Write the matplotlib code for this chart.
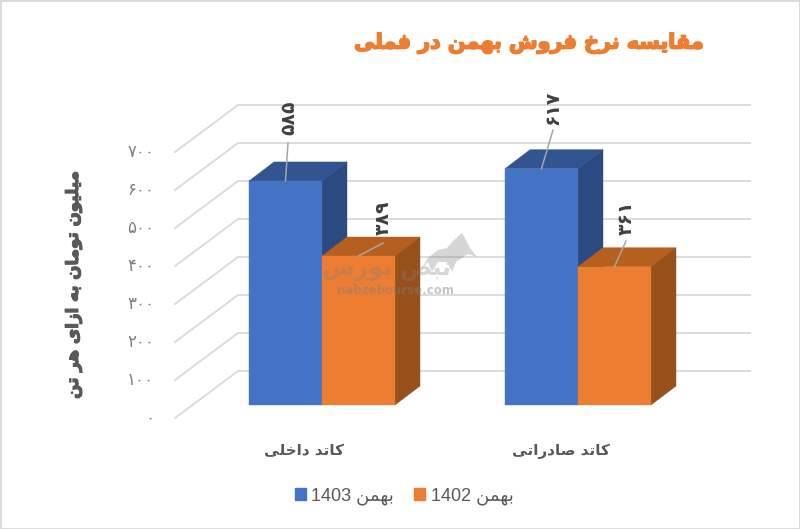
#!/usr/bin/env python3
# Faux-3D clustered column chart, Persian labels shaped by hand because
# matplotlib has no Arabic shaping.

import matplotlib

matplotlib.use("Agg")

import matplotlib.patheffects as pe
import matplotlib.pyplot as plt
from matplotlib.patches import Patch, Polygon, Rectangle


TITLE = "مقایسه نرخ فروش بهمن در فملی"
YLABEL = "میلیون تومان به ازای هر تن"
CATEGORIES = ["کاتد داخلی", "کاتد صادراتی"]
SERIES_NAMES = ["1403", "1402"]
SERIES_WORD = "بهمن"
VALUES_1403 = [585, 617]
VALUES_1402 = [389, 361]
YTICKS = [0, 100, 200, 300, 400, 500, 600, 700]
WATERMARK = "نبض بورس"
WATERMARK_URL = "nabzebourse.com"

BLUE = ("#4472C4", "#325592", "#2A4A80")
ORANGE = ("#ED7D31", "#B5601F", "#97501A")

# presentation forms: isolated, final, initial, medial
FORMS = {
    "ا": (0xFE8D, 0xFE8E), "د": (0xFEA9, 0xFEAA), "ر": (0xFEAD, 0xFEAE),
    "ز": (0xFEAF, 0xFEB0), "و": (0xFEED, 0xFEEE),
    "ب": (0xFE8F, 0xFE90, 0xFE91, 0xFE92), "ت": (0xFE95, 0xFE96, 0xFE97, 0xFE98),
    "خ": (0xFEA5, 0xFEA6, 0xFEA7, 0xFEA8), "س": (0xFEB1, 0xFEB2, 0xFEB3, 0xFEB4),
    "ش": (0xFEB5, 0xFEB6, 0xFEB7, 0xFEB8), "ص": (0xFEB9, 0xFEBA, 0xFEBB, 0xFEBC),
    "ض": (0xFEBD, 0xFEBE, 0xFEBF, 0xFEC0), "ف": (0xFED1, 0xFED2, 0xFED3, 0xFED4),
    "ق": (0xFED5, 0xFED6, 0xFED7, 0xFED8), "ک": (0xFB8E, 0xFB8F, 0xFB90, 0xFB91),
    "ل": (0xFEDD, 0xFEDE, 0xFEDF, 0xFEE0), "م": (0xFEE1, 0xFEE2, 0xFEE3, 0xFEE4),
    "ن": (0xFEE5, 0xFEE6, 0xFEE7, 0xFEE8), "ه": (0xFEE9, 0xFEEA, 0xFEEB, 0xFEEC),
    "ی": (0xFBFC, 0xFBFD, 0xFBFE, 0xFBFF),
}


def shape(text):
    out = []
    for i, ch in enumerate(text):
        forms = FORMS.get(ch)
        if forms is None:
            out.append(ch)
            continue
        prev_forms = FORMS.get(text[i - 1]) if i > 0 else None
        next_ok = i + 1 < len(text) and text[i + 1] in FORMS
        joins_prev = prev_forms is not None and len(prev_forms) == 4
        joins_next = next_ok and len(forms) == 4
        if joins_prev and joins_next:
            idx = 3
        elif joins_next:
            idx = 2
        elif joins_prev:
            idx = 1
        else:
            idx = 0
        out.append(chr(forms[idx]))
    return "".join(reversed(out))


def fa_digits(value):
    return "".join("۰۱۲۳۴۵۶۷۸۹"[int(c)] for c in str(value))


def heavy(width, color):
    return [pe.withStroke(linewidth=width, foreground=color)]


# layout in pixels of the 800x529 picture
K = 0.383
FLOOR = 405
DEPTH_X, DEPTH_Y = 25, 19


def py(px):
    return (FLOOR - px) / K


fig = plt.figure(figsize=(8.0, 5.29), dpi=100)
ax = fig.add_axes([0, 0, 1, 1])
ax.set_xlim(0, 800)
ax.set_ylim(py(529), py(0))
ax.axis("off")

fig.add_artist(Rectangle((0, 0), 1, 1, transform=fig.transFigure, fill=False,
                         edgecolor="#D9D9D9", lw=2.0))

# gridlines: side wall then back wall
grid_scale = 0.38 / K
for v in YTICKS:
    front = py(418) + v * grid_scale
    back = py(371) + v * grid_scale
    ax.plot([175, 238, 750], [front, back, back], color="#D9D9D9", lw=1.3,
            solid_joinstyle="miter", zorder=1)
    ax.text(154, front, fa_digits(v), ha="right", va="center",
            fontsize=12, color="#7F7F7F", zorder=2)

dy = DEPTH_Y / K
bar_w = 73
lefts_1403 = [249, 505]
lefts_1402 = [322, 578]


def draw_bar(x0, val, colors, z):
    x1 = x0 + bar_w
    ax.bar(x0, val, width=bar_w, align="edge", color=colors[0], zorder=z + 0.2,
           edgecolor=colors[0], linewidth=0.3)
    ax.add_patch(Polygon([(x0, val), (x0 + DEPTH_X, val + dy), (x1 + DEPTH_X, val + dy), (x1, val)],
                         facecolor=colors[1], edgecolor=colors[1], lw=0.3, zorder=z))
    ax.add_patch(Polygon([(x1, 0), (x1 + DEPTH_X, dy), (x1 + DEPTH_X, val + dy), (x1, val)],
                         facecolor=colors[2], edgecolor=colors[2], lw=0.3, zorder=z))


for x0, val in zip(lefts_1403, VALUES_1403):
    draw_bar(x0, val, BLUE, 3)
for x0, val in zip(lefts_1402, VALUES_1402):
    draw_bar(x0, val, ORANGE, 4)

# rotated data labels with leader lines: label centre and leader end in pixels
label_x = [289, 553, 383, 626]
label_y = [118, 108, 218, 218]
leader_end = [(288, 143), (553, 130), (383, 243), (626, 241)]
bar_vals = VALUES_1403 + VALUES_1402
bar_mids = [x + bar_w / 2 for x in lefts_1403 + lefts_1402]
for i, val in enumerate(bar_vals):
    ax.plot([bar_mids[i], leader_end[i][0]], [val, py(leader_end[i][1])],
            color="#A6A6A6", lw=1.1, zorder=6)
    ax.text(label_x[i], py(label_y[i]), fa_digits(val), rotation=90, ha="center", va="center",
            fontsize=13.5, fontweight="bold", color="#404040", zorder=7)

ax.text(529, py(43), shape(TITLE), ha="center", va="center", fontsize=14.9,
        fontweight="bold", color="#ED7D31", path_effects=heavy(1.2, "#ED7D31"))
ax.text(73, py(285), shape(YLABEL), rotation=90, ha="center", va="center", fontsize=12,
        fontweight="bold", color="#595959", path_effects=heavy(0.9, "#595959"))
for cx, cat in zip([304, 561], CATEGORIES):
    ax.text(cx, py(451), shape(cat), ha="center", va="center", fontsize=11,
            fontweight="bold", color="#595959")

# watermark
bull = [(422, 268), (428, 258), (438, 250), (447, 248), (454, 240), (462, 233), (466, 240),
        (470, 248), (477, 257), (468, 254), (462, 258), (456, 262), (452, 272), (447, 262),
        (438, 262), (432, 272), (428, 262)]
ax.add_patch(Polygon([(x, py(y)) for x, y in bull], facecolor="#808080", alpha=0.32,
                     edgecolor="none", zorder=8))
ax.text(386, py(269), shape(WATERMARK), ha="center", va="center", fontsize=17,
        fontweight="bold", color="#808080", alpha=0.32, zorder=8)
ax.text(395, py(291), WATERMARK_URL, ha="center", va="center", fontsize=8.5,
        fontweight="bold", color="#808080", alpha=0.45, zorder=8)

# legend
handles = [Patch(color=BLUE[0]), Patch(color=ORANGE[0])]
labels = [f"{year} {shape(SERIES_WORD)}" for year in SERIES_NAMES]
ax.legend(handles, labels, loc="center", bbox_to_anchor=(404 / 800, 1 - 496 / 529),
          ncol=2, frameon=False, handlelength=0.61, handleheight=0.61, handletextpad=0.32,
          columnspacing=1.1, labelcolor="#595959",
          prop={"family": ["Liberation Sans", "DejaVu Sans"], "size": 13})

fig.savefig("out.png", dpi=100)
plt.close(fig)
